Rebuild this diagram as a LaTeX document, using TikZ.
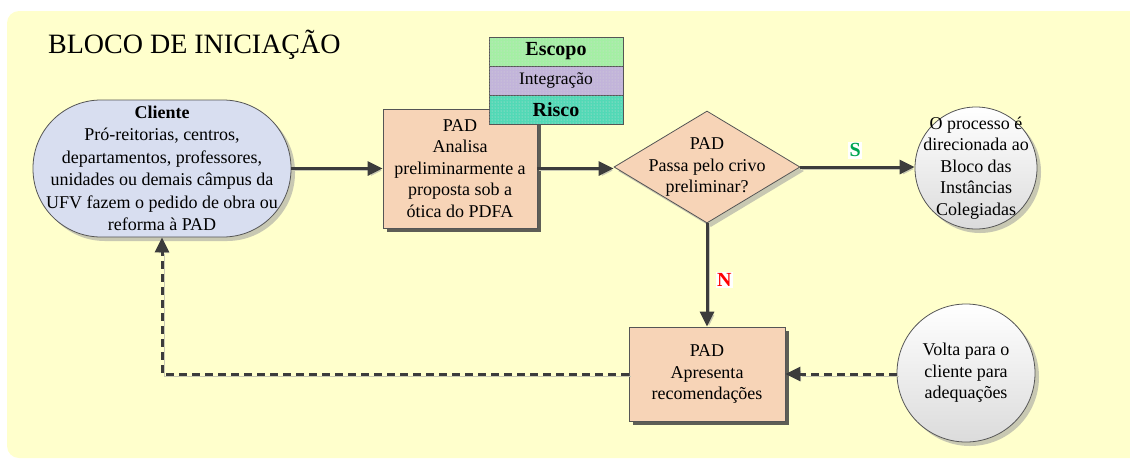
\documentclass[tikz,border=0pt]{standalone}
\usepackage{fontspec}
\setmainfont{Liberation Serif}
\usetikzlibrary{shapes.geometric,arrows.meta,shadows,patterns}

\definecolor{panelbg}{HTML}{FFFFCC}
\definecolor{clientfill}{HTML}{D8DEF0}
\definecolor{peach}{HTML}{F7D4B7}
\definecolor{edgegray}{HTML}{555555}
\definecolor{wiregray}{HTML}{3C3C3C}
\definecolor{softshade}{HTML}{C8C8B2}
\definecolor{darkshade}{HTML}{5E5E56}
\definecolor{escopofill}{HTML}{A4EFA4}
\definecolor{integfill}{HTML}{C2B4DA}
\definecolor{riscofill}{HTML}{52D9B6}
\definecolor{simgreen}{HTML}{00A651}

\tikzset{
  txt/.style={align=center, font=\fontsize{18}{21.5}\selectfont},
  base/.style={txt, draw=edgegray, line width=0.8pt, inner sep=0pt},
  softshadow/.style={drop shadow={shadow xshift=4pt, shadow yshift=-4pt, fill=softshade, opacity=1}},
  boxshadow/.style={drop shadow={shadow xshift=4pt, shadow yshift=-4pt, fill=darkshade, opacity=1}},
  procbox/.style={base, fill=peach, boxshadow},
  roundstate/.style={base, circle, top color=white, bottom color=black!14, softshadow},
  tagbox/.style={base, minimum width=134pt, minimum height=29pt,
    postaction={pattern=dots, pattern color=white!70!gray}},
  wire/.style={draw=wiregray, line width=3pt, -{Triangle[length=15pt,width=14pt]},
    preaction={draw=softshade, transform canvas={xshift=2pt,yshift=-2pt}}},
  backwire/.style={wire, dash pattern=on 8pt off 5pt},
  answer/.style={fill=white, inner sep=1.5pt, font=\bfseries\fontsize{20}{22}\selectfont}
}

\begin{document}
\begin{tikzpicture}[x=1pt,y=-1pt]
  \useasboundingbox (0,0) rectangle (1130,459);
  \clip (0,0) rectangle (1130,459);

  % background panel
  \fill[panelbg, rounded corners=12pt] (7,11) rectangle (1150,458);

  \node[anchor=base west, inner sep=0pt, font=\fontsize{28}{30}\selectfont] (title) at (48,53) {BLOCO DE INICIAÇÃO};

  % client
  \node[base, fill=clientfill, rounded corners=68pt, minimum width=258pt, minimum height=137pt,
        softshadow, font=\fontsize{18}{22.5}\selectfont] (cli) at (162,168.5)
    {\textbf{Cliente}\\Pró-reitorias, centros,\\departamentos, professores,\\unidades ou demais câmpus da\\UFV fazem o pedido de obra ou\\reforma à PAD};

  % preliminary analysis
  \node[procbox, minimum width=154pt, minimum height=119pt] (analisa) at (460,168.5)
    {PAD\\Analisa\\preliminarmente a\\proposta sob a\\ótica do PDFA};

  % knowledge areas
  \node[tagbox, fill=escopofill, font=\bfseries\fontsize{20}{22}\selectfont] (escopo) at (556,51.5) {Escopo};
  \node[tagbox, fill=integfill, font=\fontsize{17.5}{20}\selectfont] (integ) at (556,80.5) {Integração};
  \node[tagbox, fill=riscofill, font=\bfseries\fontsize{20}{22}\selectfont] (risco) at (556,109.5) {Risco};

  % decision
  \node[base, diamond, fill=peach, minimum width=186pt, minimum height=112pt, softshadow,
        label={[txt]center:PAD\\Passa pelo crivo\\preliminar?}] (crivo) at (707,167) {};

  % outcomes
  \node[roundstate, minimum size=122pt,
        label={[txt]center:O processo é\\direcionada ao\\Bloco das\\Instâncias\\Colegiadas}] (fim) at (976,168) {};

  \node[procbox, minimum width=156pt, minimum height=94pt] (recom) at (707,374)
    {PAD\\Apresenta\\recomendações};

  \node[roundstate, minimum size=138pt,
        label={[txt]center:Volta para o\\cliente para\\adequações}] (volta) at (966,373) {};

  % connectors
  \draw[wire] (cli.east) -- (analisa.west);
  \draw[wire] (analisa.east) -- (analisa.east -| crivo.west);
  \draw[wire] (crivo.east) -- node[answer, text=simgreen, pos=0.48, above=7pt] (sim) {S} (crivo.east -| fim.west);
  \draw[wire] (crivo.south) -- node[answer, text=red, pos=0.55, right=7pt] (nao) {N} (recom.north);
  \draw[backwire] (volta.west |- recom.east) -- (recom.east);
  \draw[backwire] (recom.west) -| (cli.south);
\end{tikzpicture}
\end{document}
